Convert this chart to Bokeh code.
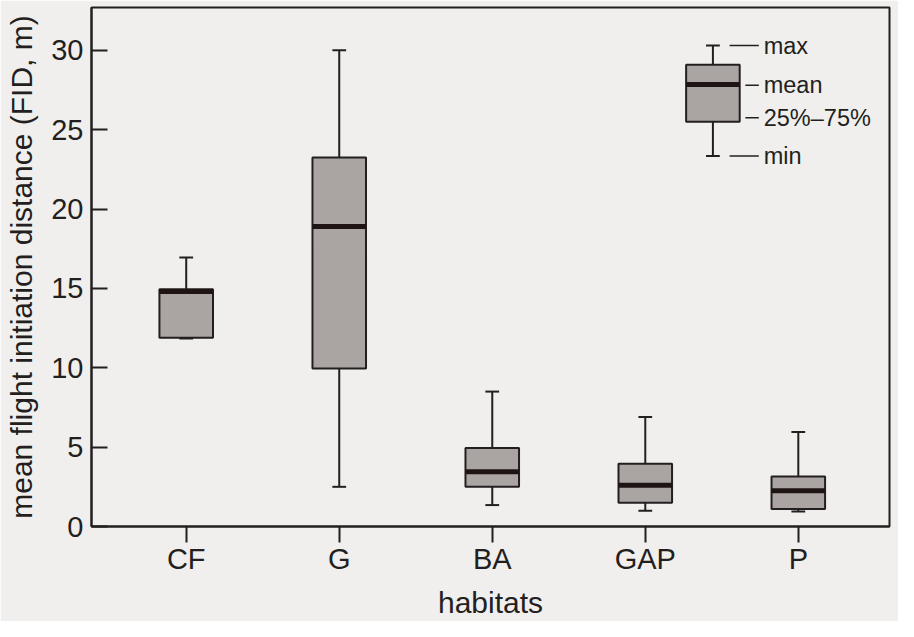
from bokeh.plotting import figure
from bokeh.models import Range1d, FixedTicker, ColumnDataSource
from bokeh.core.properties import value
from bokeh.embed import file_html
from bokeh.resources import INLINE

# data
habitats = ["CF", "G", "BA", "GAP", "P"]
x_pos = [1, 2, 3, 4, 5]
v_min = [11.85, 2.5, 1.35, 1.0, 0.95]
q1 = [11.9, 9.95, 2.5, 1.5, 1.1]
mean = [14.8, 18.9, 3.45, 2.6, 2.25]
q3 = [14.95, 23.25, 4.95, 3.95, 3.15]
v_max = [16.95, 30.0, 8.5, 6.9, 5.95]
y_ticks = [0, 5, 10, 15, 20, 25, 30]
x_title = "habitats"
y_title = "mean flight initiation distance (FID, m)"

# key (legend) example
key_x = 4.442
key_stats = {"min": 23.35, "q1": 25.5, "mean": 27.85, "q3": 29.1, "max": 30.3}
key_labels = ["max", "mean", "25%\u201375%", "min"]
key_label_y = [30.3, 27.8, 25.75, 23.35]
key_dash_x0 = [4.551, 4.654, 4.654, 4.551]
key_dash_x1 = [4.742, 4.742, 4.742, 4.742]
key_text_x = 4.774

FONT = "Liberation Sans"
INK = "#231f20"
BOXFILL = "#aaa4a2"
BG = "#f1efee"
BOX_W = 0.35
CAP_W = 0.09

p = figure(width=898, height=621, output_backend="svg", toolbar_location=None,
           x_range=Range1d(0.381, 5.596), y_range=Range1d(0, 32.7),
           min_border_left=91, min_border_right=9, min_border_top=7, min_border_bottom=94)
p.background_fill_color = BG
p.border_fill_color = BG
p.outline_line_color = INK
p.outline_line_width = 2
p.grid.visible = False


def draw_boxes(xs, mn, a, m, b, mx):
    src = ColumnDataSource(dict(x=xs, mn=mn, q1=a, mean=m, q3=b, mx=mx,
                                xl=[x - CAP_W / 2 for x in xs], xr=[x + CAP_W / 2 for x in xs],
                                bl=[x - BOX_W / 2 for x in xs], br=[x + BOX_W / 2 for x in xs]))
    p.segment(x0="x", y0="q3", x1="x", y1="mx", source=src, line_color=INK, line_width=2)
    p.segment(x0="x", y0="mn", x1="x", y1="q1", source=src, line_color=INK, line_width=2)
    p.segment(x0="xl", y0="mx", x1="xr", y1="mx", source=src, line_color=INK, line_width=2)
    p.segment(x0="xl", y0="mn", x1="xr", y1="mn", source=src, line_color=INK, line_width=2)
    p.vbar(x="x", width=BOX_W, bottom="q1", top="q3", source=src,
           fill_color=BOXFILL, line_color=INK, line_width=2)
    p.segment(x0="bl", y0="mean", x1="br", y1="mean", source=src, line_color="#1e1414", line_width=5)


draw_boxes(x_pos, v_min, q1, mean, q3, v_max)
draw_boxes([key_x], [key_stats["min"]], [key_stats["q1"]], [key_stats["mean"]],
           [key_stats["q3"]], [key_stats["max"]])

p.segment(x0=key_dash_x0, y0=key_label_y, x1=key_dash_x1, y1=key_label_y,
          line_color=INK, line_width=1.5)
p.text(x=[key_text_x] * 4, y=key_label_y, text=key_labels,
       text_font=value(FONT), text_font_size="23.5px", text_color=INK,
       text_baseline="middle", text_align="left")

# axes
p.xaxis.ticker = FixedTicker(ticks=x_pos)
p.xaxis.major_label_overrides = {x: h for x, h in zip(x_pos, habitats)}
p.yaxis.ticker = FixedTicker(ticks=y_ticks)
for ax in (p.xaxis, p.yaxis):
    ax.axis_line_color = INK
    ax.axis_line_width = 2
    ax.major_tick_line_color = INK
    ax.major_tick_line_width = 2
    ax.minor_tick_line_color = None
    ax.major_label_text_font = FONT
    ax.major_label_text_font_size = "29px"
    ax.major_label_text_color = INK
    ax.axis_label_text_font = FONT
    ax.axis_label_text_font_size = "30px"
    ax.axis_label_text_font_style = "normal"
    ax.axis_label_text_color = INK

p.xaxis.major_tick_in = 0
p.xaxis.major_tick_out = 16
p.xaxis.major_label_standoff = 0
p.xaxis.axis_label = x_title
p.xaxis.axis_label_standoff = 8

p.yaxis.major_tick_in = 16
p.yaxis.major_tick_out = 0
p.yaxis.major_label_standoff = 8
p.yaxis.axis_label = y_title
p.yaxis.axis_label_standoff = 10

open("out.html", "w").write(file_html(p, INLINE))
